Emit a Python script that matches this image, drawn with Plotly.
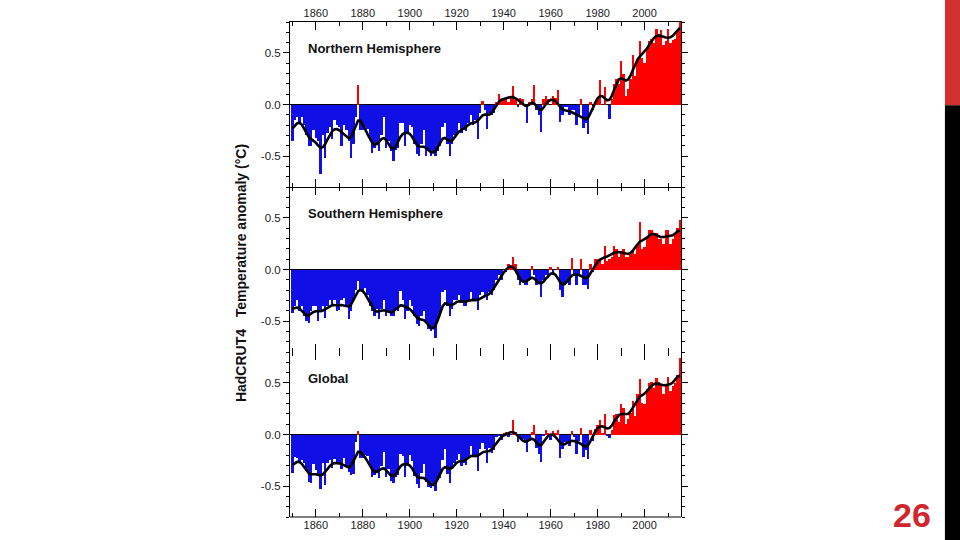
import numpy as np
import plotly.graph_objects as go
from plotly.subplots import make_subplots
from math import comb

years = list(range(1850, 2016))

northern = [
    -0.35, -0.15, -0.12, -0.18, -0.12, -0.20, -0.30, -0.40, -0.40, -0.25,
    -0.32, -0.35, -0.67, -0.30, -0.52, -0.28, -0.22, -0.33, -0.15, -0.20,
    -0.22, -0.40, -0.20, -0.25, -0.35, -0.52, -0.38, -0.12, 0.19, -0.25,
    -0.25, -0.22, -0.24, -0.32, -0.47, -0.42, -0.38, -0.45, -0.30, -0.12,
    -0.42, -0.35, -0.45, -0.55, -0.44, -0.42, -0.18, -0.18, -0.40, -0.28,
    -0.20, -0.22, -0.38, -0.48, -0.50, -0.38, -0.25, -0.50, -0.45, -0.50,
    -0.46, -0.50, -0.45, -0.40, -0.22, -0.18, -0.38, -0.50, -0.38, -0.30,
    -0.28, -0.18, -0.28, -0.25, -0.26, -0.18, -0.10, -0.20, -0.15, -0.33,
    -0.08, 0.03, -0.05, -0.24, -0.08, -0.10, -0.08, 0.02, 0.10, 0.05,
    0.05, 0.06, 0.02, 0.08, 0.18, 0.04, -0.02, 0.06, 0.05, 0.00,
    -0.18, 0.02, 0.05, 0.19, -0.05, -0.10, -0.27, 0.05, 0.08, 0.05,
    0.00, 0.08, 0.06, 0.14, -0.17, -0.10, -0.02, -0.02, -0.10, -0.05,
    -0.05, -0.20, -0.10, 0.05, -0.23, -0.18, -0.29, 0.02, -0.05, 0.02,
    0.05, 0.24, 0.00, 0.17, 0.00, -0.14, 0.05, 0.20, 0.25, 0.20,
    0.42, 0.30, 0.08, 0.15, 0.25, 0.48, 0.28, 0.44, 0.62, 0.45,
    0.40, 0.56, 0.62, 0.64, 0.60, 0.73, 0.68, 0.72, 0.58, 0.62,
    0.73, 0.60, 0.63, 0.64, 0.72, 0.95,
]

southern = [
    -0.42, -0.35, -0.30, -0.40, -0.35, -0.45, -0.50, -0.52, -0.40, -0.35,
    -0.35, -0.50, -0.40, -0.35, -0.47, -0.35, -0.30, -0.35, -0.30, -0.40,
    -0.39, -0.30, -0.28, -0.35, -0.48, -0.40, -0.30, -0.20, -0.11, -0.20,
    -0.22, -0.18, -0.25, -0.35, -0.40, -0.45, -0.38, -0.48, -0.38, -0.30,
    -0.45, -0.40, -0.45, -0.45, -0.38, -0.40, -0.21, -0.30, -0.48, -0.40,
    -0.30, -0.35, -0.45, -0.53, -0.55, -0.45, -0.40, -0.50, -0.58, -0.60,
    -0.58, -0.66, -0.50, -0.45, -0.22, -0.20, -0.35, -0.45, -0.38, -0.30,
    -0.30, -0.25, -0.32, -0.35, -0.35, -0.30, -0.22, -0.30, -0.30, -0.39,
    -0.25, -0.22, -0.25, -0.30, -0.22, -0.25, -0.20, -0.10, -0.05, -0.10,
    0.00, -0.02, 0.05, 0.02, 0.12, 0.05, -0.10, -0.15, -0.12, -0.15,
    -0.15, -0.10, 0.03, -0.05, -0.15, -0.12, -0.27, -0.10, -0.05, -0.08,
    0.02, -0.05, 0.00, 0.02, -0.20, -0.27, -0.15, -0.10, -0.15, 0.11,
    -0.05, -0.15, -0.05, 0.10, -0.15, -0.15, -0.19, 0.05, -0.02, 0.10,
    0.10, 0.10, 0.05, 0.23, 0.08, 0.10, 0.12, 0.23, 0.20, 0.12,
    0.18, 0.20, 0.12, 0.12, 0.15, 0.18, 0.15, 0.25, 0.46, 0.20,
    0.22, 0.30, 0.38, 0.38, 0.35, 0.35, 0.30, 0.30, 0.25, 0.38,
    0.38, 0.25, 0.30, 0.33, 0.40, 0.48,
]

globe = [
    -0.373, -0.218, -0.228, -0.269, -0.248, -0.272, -0.358, -0.461, -0.467, -0.284,
    -0.343, -0.407, -0.524, -0.278, -0.494, -0.279, -0.251, -0.321, -0.238, -0.262,
    -0.276, -0.335, -0.227, -0.304, -0.368, -0.395, -0.384, -0.075, 0.035, -0.230,
    -0.227, -0.200, -0.213, -0.296, -0.409, -0.389, -0.367, -0.418, -0.307, -0.171,
    -0.416, -0.330, -0.455, -0.473, -0.410, -0.390, -0.186, -0.206, -0.412, -0.289,
    -0.203, -0.259, -0.402, -0.479, -0.520, -0.377, -0.283, -0.465, -0.511, -0.522,
    -0.490, -0.544, -0.437, -0.424, -0.244, -0.141, -0.383, -0.468, -0.333, -0.275,
    -0.247, -0.187, -0.302, -0.276, -0.294, -0.215, -0.108, -0.210, -0.206, -0.350,
    -0.137, -0.087, -0.137, -0.273, -0.131, -0.178, -0.147, -0.026, -0.006, -0.052,
    0.014, 0.020, -0.027, -0.004, 0.144, 0.025, -0.071, -0.038, -0.039, -0.074,
    -0.173, -0.052, 0.028, 0.097, -0.129, -0.190, -0.267, -0.007, 0.046, 0.017,
    -0.049, 0.038, 0.014, 0.048, -0.223, -0.140, -0.068, -0.074, -0.113, 0.032,
    -0.027, -0.186, -0.065, 0.062, -0.214, -0.149, -0.241, 0.047, -0.062, 0.057,
    0.092, 0.140, 0.011, 0.194, -0.014, -0.030, 0.045, 0.192, 0.198, 0.118,
    0.296, 0.254, 0.105, 0.148, 0.208, 0.325, 0.183, 0.390, 0.539, 0.306,
    0.294, 0.441, 0.496, 0.505, 0.447, 0.545, 0.506, 0.491, 0.395, 0.494,
    0.559, 0.422, 0.467, 0.496, 0.576, 0.745,
]

panel_titles = ["Northern Hemisphere", "Southern Hemisphere", "Global"]
x_tickvals = [1860, 1880, 1900, 1920, 1940, 1960, 1980, 2000]
y_tickvals = [-0.5, 0.0, 0.5]
y_ticktext = ["-0.5", "0.0", "0.5"]
y_title = "HadCRUT4   Temperature anomaly (°C)"
page_number = "26"

RED = "#ff0000"
BLUE = "#1010e6"
FONT = "Liberation Sans, Arial, sans-serif"


def smooth(vals, n=13):
    """Binomial low-pass filter; ends padded with the mean of the nearest decade."""
    w = np.array([comb(n - 1, k) for k in range(n)], dtype=float)
    w /= w.sum()
    h = n // 2
    a = np.asarray(vals, dtype=float)
    pad = np.concatenate([np.full(h, a[:11].mean()), a, np.full(h, a[-11:].mean())])
    return np.convolve(pad, w, mode="valid")


fig = make_subplots(rows=3, cols=1, vertical_spacing=0)

series = [northern, southern, globe]
for i, vals in enumerate(series, start=1):
    colors = [RED if v > 0 else BLUE for v in vals]
    fig.add_trace(go.Bar(x=years, y=vals, marker=dict(color=colors, line=dict(width=0)),
                         showlegend=False, hoverinfo="x+y"), row=i, col=1)
    fig.add_trace(go.Scatter(x=years, y=smooth(vals), mode="lines",
                             line=dict(color="black", width=2.6), showlegend=False),
                  row=i, col=1)

tickfont = dict(family=FONT, size=11, color="#222222")

for i in range(1, 4):
    xkw = dict(range=[1849, 2015.5], tickmode="array", tickvals=x_tickvals,
               ticks="inside", ticklen=8, tickcolor="black", tickwidth=1,
               mirror="ticks", showgrid=False, zeroline=False, automargin=False,
               minor=dict(tick0=1850, dtick=10, ticks="inside", ticklen=4,
                          tickcolor="black", showgrid=False),
               tickfont=tickfont, linecolor="black", linewidth=1)
    if i == 1:
        xkw.update(side="top", showticklabels=True, showline=True)
    elif i == 2:
        xkw.update(showticklabels=False, showline=False)
    else:
        xkw.update(showticklabels=True, showline=False)
    fig.update_xaxes(row=i, col=1, **xkw)
    fig.update_yaxes(row=i, col=1, range=[-0.8, 0.8], tickmode="array",
                     tickvals=y_tickvals, ticktext=y_ticktext, automargin=False,
                     ticks="outside", ticklen=6, tickcolor="black", tickwidth=1,
                     mirror="ticks", showline=True, linecolor="black", linewidth=1,
                     showgrid=False, zeroline=True, zerolinecolor="black",
                     zerolinewidth=1, tickfont=dict(tickfont, size=11.5),
                     minor=dict(tick0=0, dtick=0.1, ticks="outside", ticklen=3,
                                tickcolor="black", showgrid=False))

annotations = []
for i, t in enumerate(panel_titles, start=1):
    xd = "x domain" if i == 1 else f"x{i} domain"
    yd = "y domain" if i == 1 else f"y{i} domain"
    annotations.append(dict(text=f"<b>{t}</b>", xref=xd, yref=yd, x=0.04, y=0.84,
                            xanchor="left", yanchor="middle", showarrow=False,
                            font=dict(family=FONT, size=13, color="#111111")))
annotations.append(dict(text=f"<b>{y_title}</b>", xref="paper", yref="paper",
                        x=-0.125, y=0.493, xanchor="center", yanchor="middle",
                        textangle=-90, showarrow=False,
                        font=dict(family=FONT, size=14, color="#111111")))
annotations.append(dict(text=f"<b>{page_number}</b>", xref="paper", yref="paper",
                        x=1.591, y=0.004, xanchor="center", yanchor="middle",
                        showarrow=False,
                        font=dict(family=FONT, size=34, color="#d0272f")))

shapes = [
    dict(type="line", xref="paper", yref="paper", x0=0, x1=1, y0=0, y1=0,
         line=dict(color="black", width=1)),
    dict(type="rect", xref="paper", yref="paper", x0=1.675, x1=1.72, y0=0.832, y1=1.045,
         fillcolor="#d0312d", line=dict(width=0)),
    dict(type="rect", xref="paper", yref="paper", x0=1.675, x1=1.72, y0=-0.047, y1=0.832,
         fillcolor="#000000", line=dict(width=0)),
]

fig.update_layout(width=960, height=540, margin=dict(l=290, r=279, t=22, b=23),
                  paper_bgcolor="white", plot_bgcolor="white", bargap=0,
                  annotations=annotations, shapes=shapes)

fig.write_html("out.html", config={"displayModeBar": False},
               post_script="document.body.style.margin='0';"
                           "document.body.style.overflow='hidden';")
